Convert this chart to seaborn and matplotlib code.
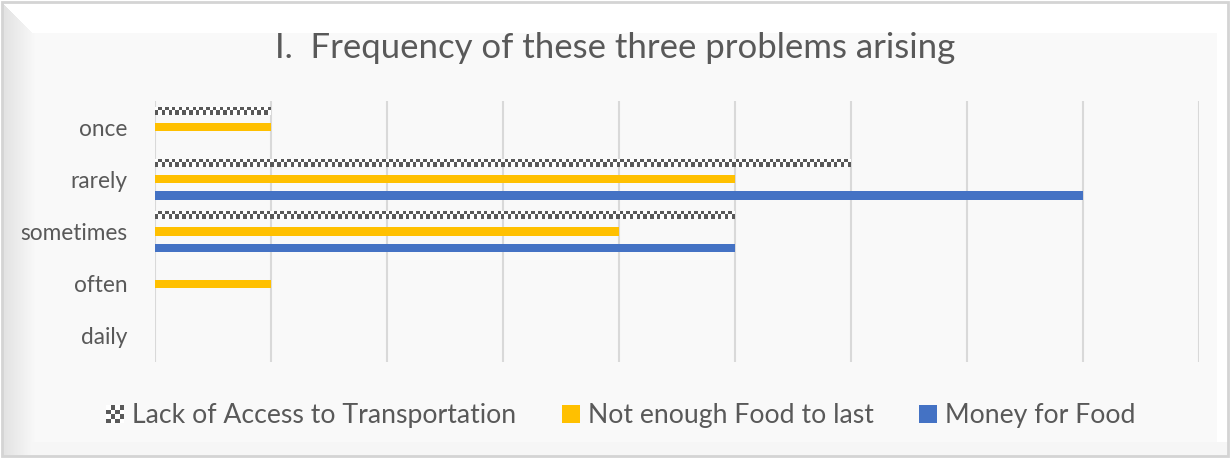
import numpy as np
import pandas as pd
import matplotlib
matplotlib.use("Agg")
import matplotlib.pyplot as plt
from matplotlib.colors import ListedColormap
from matplotlib.patches import Rectangle
from matplotlib.legend_handler import HandlerBase
import seaborn as sns

# ---- data ----
categories = ["once", "rarely", "sometimes", "often", "daily"]
series = ["Lack of Access to Transportation", "Not enough Food to last", "Money for Food"]
transport = [1, 6, 5, 0, 0]
food = [1, 5, 4, 1, 0]
money = [0, 8, 5, 0, 0]
title = "I.  Frequency of these three problems arising"

colors = {"Lack of Access to Transportation": "#595959",
          "Not enough Food to last": "#FFC000",
          "Money for Food": "#4472C4"}
TXT = "#595959"

rows = []
for s, vals in zip(series, [transport, food, money]):
    for c, v in zip(categories, vals):
        rows.append({"category": c, "series": s, "value": v})
df = pd.DataFrame(rows)

sns.set_theme(style="white")
plt.rcParams["font.family"] = ["Lato", "DejaVu Sans"]

W, H = 1231, 459
fig = plt.figure(figsize=(W / 100, H / 100), dpi=100)
fig.patch.set_facecolor("#FAFAFA")

# background bevel frame
bg = fig.add_axes([0, 0, 1, 1], zorder=-10)
img = np.full((H, W), 0.98)
yy, xx = np.mgrid[0:H, 0:W]
left = (xx < 36)
img[left] = 0.88 + 0.10 * (xx[left] / 36.0)
top = (yy < 33) & (yy <= xx)
img[top] = 1.0
img[(xx > 1216)] = 1.0
img[(yy > 441) & (xx > 30)] = 0.965
img[(xx < 3) | (yy < 3) | (xx > W - 4) | (yy > H - 4)] = 1.0
bg.imshow(np.dstack([img, img, img]), aspect="auto", extent=(0, W, H, 0))
bg.add_patch(Rectangle((2, 2), W - 5, H - 5, fill=False, edgecolor="#D4D4D4", lw=2))
bg.set_xlim(0, W); bg.set_ylim(H, 0)
bg.axis("off")

ax = fig.add_axes([155 / W, 1 - 362 / H, (1199 - 155) / W, (362 - 101) / H])
ax.set_facecolor("none")
sns.barplot(data=df, y="category", x="value", hue="series", order=categories,
            hue_order=series, palette=colors, orient="h", width=0.93, gap=0.5,
            legend=False, ax=ax, saturation=1, linewidth=0)

ax.set_xlim(0, 9)
ax.set_ylim(4.5, -0.5)
ax.set_xticks(range(0, 10))
ax.set_xticklabels([])
ax.xaxis.grid(True, color="#D9D9D9", lw=1.5)
ax.set_axisbelow(True)
for sp in ax.spines.values():
    sp.set_visible(False)
ax.tick_params(axis="y", length=0, labelsize=16.3, labelcolor=TXT, pad=20)
ax.tick_params(axis="x", length=0)
ax.set_xlabel("")
ax.set_ylabel("")

# checkerboard fill for transport bars
fig.canvas.draw()
cmap = ListedColormap(["#FFFFFF", "#595959"])
sq = 3.4
for bar in ax.containers[0]:
    w = bar.get_width()
    if w <= 0:
        continue
    x0, y0 = bar.get_x(), bar.get_y()
    h = bar.get_height()
    p0 = ax.transData.transform((x0, y0))
    p1 = ax.transData.transform((x0 + w, y0 + h))
    nx = max(1, int(round(abs(p1[0] - p0[0]) / sq)))
    ny = max(1, int(round(abs(p1[1] - p0[1]) / sq)))
    board = np.indices((ny, nx)).sum(axis=0) % 2
    bar.set_facecolor("none")
    im = ax.imshow(board, cmap=cmap, interpolation="nearest", aspect="auto",
                   extent=(x0, x0 + w, y0 + h, y0), zorder=bar.get_zorder())
    im.set_clip_path(bar)
ax.set_xlim(0, 9)
ax.set_ylim(4.5, -0.5)
ax.set_aspect("auto")

fig.text(615 / W, 1 - 48 / H, title, ha="center", va="center", fontsize=25, color=TXT)


class CheckerHandler(HandlerBase):
    def create_artists(self, legend, orig_handle, xdescent, ydescent, width, height,
                       fontsize, trans):
        n = 4
        s = min(width, height)
        ox = -xdescent + (width - s) / 2
        oy = -ydescent + (height - s) / 2
        d = s / n
        arts = [Rectangle((ox, oy), s, s, facecolor="white", edgecolor="none", transform=trans)]
        for i in range(n):
            for j in range(n):
                if (i + j) % 2 == 0:
                    arts.append(Rectangle((ox + i * d, oy + j * d), d, d,
                                          facecolor="#595959", edgecolor="none", transform=trans))
        return arts


class SquareHandler(HandlerBase):
    def create_artists(self, legend, orig_handle, xdescent, ydescent, width, height,
                       fontsize, trans):
        s = min(width, height)
        ox = -xdescent + (width - s) / 2
        oy = -ydescent + (height - s) / 2
        return [Rectangle((ox, oy), s, s, facecolor=orig_handle.get_facecolor(),
                          edgecolor="none", transform=trans)]


handles = [Rectangle((0, 0), 1, 1, facecolor=colors[s]) for s in series]
hmap = {handles[0]: CheckerHandler(), handles[1]: SquareHandler(), handles[2]: SquareHandler()}
leg = fig.legend(handles, series, handler_map=hmap, loc="center",
                 bbox_to_anchor=(621 / W, 1 - 416 / H), ncol=3, frameon=False,
                 fontsize=19.2, handlelength=0.68, handleheight=0.68, handletextpad=0.3,
                 columnspacing=1.7)
for t in leg.get_texts():
    t.set_color(TXT)

fig.savefig("out.png", dpi=100, facecolor=fig.get_facecolor())
